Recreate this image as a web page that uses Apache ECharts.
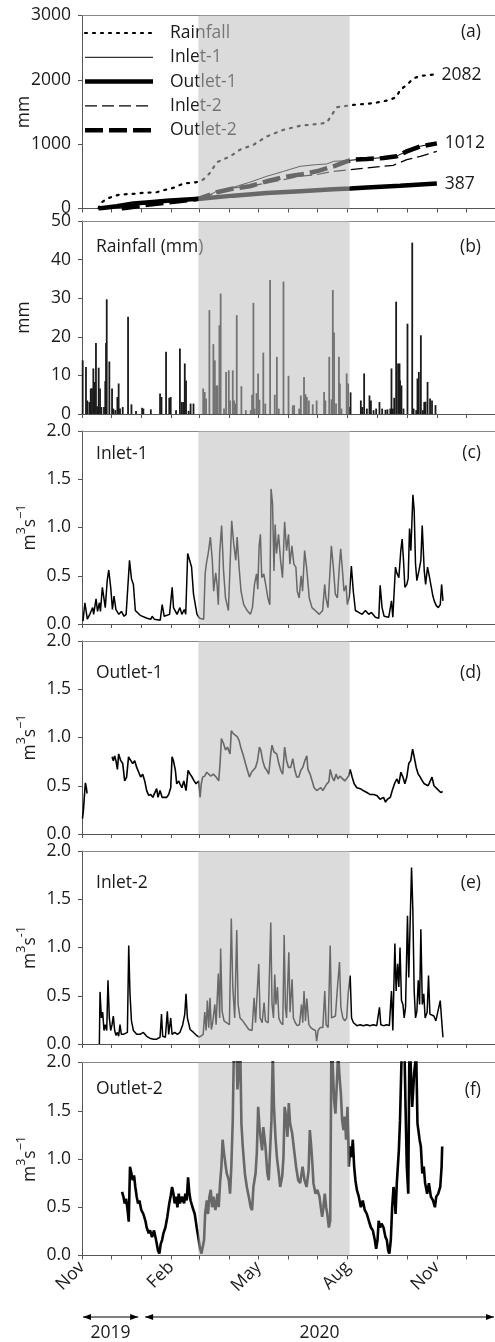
<!DOCTYPE html>
<html><head><meta charset="utf-8">
<script src="https://cdn.jsdelivr.net/npm/echarts@6/dist/echarts.min.js"></script>
<style>html,body{margin:0;padding:0;background:#fff}#c{width:495px;height:1342px}</style>
</head><body><div id="c"></div>
<script>
// x values are days since 2019-11-01
const monthTickDays = [0,30,61,92,121,152,182,213,243,274,305,335,366,396,427];
const monthLabelDays = [0,92,182,274,366];
const monthLabelText = ['Nov','Feb','May','Aug','Nov'];
const shadeDays = [120, 276];
const yearSpans = [['2019',0,61],['2020',61,427]];

// (a) cumulative, mm
const cumRainfall = [[17,0],[18.6,77],[25.5,150],[32.3,190],[39.2,217],[53,227],[63.3,243],[77,253],[84,284],[94,320],[104.5,387],[118,408],[125,449],[132,553],[139,718],[153,811],[163,914],[177,992],[190.6,1121],[208,1224],[225,1286],[245.6,1317],[252.5,1337],[257.7,1456],[262.8,1575],[280,1611],[300.7,1637],[318,1689],[324.7,1740],[328,1844],[335,1921],[342,2024],[349,2060],[362.6,2082]];
const cumInlet1 = [[17,0],[18.6,10],[53,88],[87.4,139],[119.7,160],[128.7,191],[139,268],[156,330],[173,408],[190.6,501],[208,578],[225,656],[242,682],[252.5,692],[259.4,733],[273,744],[293.8,775],[311,790],[324.7,815],[335,890],[349,968],[362.6,1010]];
const cumOutlet1 = [[17,0],[35.8,36],[53,77],[70,98],[87.4,119],[108,140],[121.8,150],[156,200],[190.6,240],[225,270],[259.4,300],[276.6,312],[293.8,328],[328,355],[366,387]];
const cumInlet2 = [[18,0],[70,77],[120,150],[139,243],[156,320],[173,346],[190.6,398],[208,449],[225,501],[242,527],[259.4,578],[276.6,604],[293.8,630],[311,656],[321,671],[335,759],[349,811],[366,888]];
const cumOutlet2 = [[41,0],[70,62],[120,150],[139,253],[156,310],[173,346],[190.6,423],[208,490],[225,527],[242,578],[259.4,656],[273,733],[280,759],[293.8,769],[311,785],[324.7,811],[335,888],[349,966],[366,1012]];
const endTotals = {rain:'2082', outlet2:'1012', outlet1:'387'};

// (b) daily rainfall, mm
const rainfall = [[0.7,13.9],[4.1,12.2],[5.5,3.5],[7.6,3.1],[9,6.6],[10.3,6.7],[11.7,11.8],[13.1,8.3],[14.4,18.4],[15.8,2.0],[17.2,12.0],[18.6,6.6],[20,1.8],[22.7,1.8],[24,8.5],[24.8,18.4],[25.5,29.7],[28.2,13.6],[31,6.6],[32.3,1.4],[34.4,1],[36.5,4.4],[37.8,7.9],[39.2,1.4],[42,1.8],[47.5,25.2],[51,2.5],[55.7,0.8],[62,1.6],[63.3,1.4],[71,1.2],[80.5,5.3],[82,4.4],[86.7,16.1],[90,4.2],[91.5,4.4],[97,1],[101,17.0],[103,3.1],[104.6,3.1],[106,13.1],[107.3,8.7],[110,0.8],[112,2.7],[115,2.7],[125,6.6],[126.6,5.7],[128,4.0],[131.4,26.9],[135.5,18.1],[137,13.9],[138.3,7.4],[139.7,7.4],[141.7,23.0],[143,31.2],[146.5,1.4],[148.6,10.9],[151.4,11.3],[152.7,3.5],[155.5,11.3],[156.9,3.5],[158.2,2.7],[159.6,25.6],[164.4,7.2],[169,1],[174,1],[175.4,5.0],[176.8,28.8],[178,1.4],[180,5.4],[181.6,10.5],[183,3.7],[187,15.9],[189,2.7],[194,34.7],[198.8,5.0],[201,14.8],[203,1.4],[207.8,34.3],[213,9.9],[217.4,2.2],[218.8,2.3],[224,1.4],[225.7,4.8],[229,9.6],[230.5,5.1],[231.9,4.4],[234,3.5],[238,2.5],[242,3.5],[249.7,5.7],[251,3.5],[255,14.8],[257.3,3.8],[258.7,32.1],[260,21.1],[262,2.7],[265,14.8],[266,7.9],[267.6,1.4],[273,10.5],[274.5,7.9],[276,1.8],[277,5.6],[287.6,3.5],[289,1.8],[291,10.5],[293.8,1.4],[296.5,4.8],[298,3.5],[300.7,1],[303.4,1.4],[306.8,3.1],[309.6,1.4],[313,1.1],[315,1.2],[318,1.4],[319.2,11.8],[320.6,1.4],[322,4.2],[324,29.1],[326,13.1],[327.5,13.1],[328,8.7],[329.5,7.4],[331.6,1.4],[335.7,23.4],[340.6,44.4],[342,1.4],[344.7,1],[346,9.2],[347.4,10.9],[349.5,20.4],[351.6,1],[353,3.1],[354.3,3.2],[356.4,8.3],[359,4.0],[361,3.5],[364.6,2.3]];

// (c) Inlet-1 flow, m3/s
const inlet1 = [[1,0.03],[3,0.22],[5.5,0.05],[8,0.10],[11,0.17],[12,0.10],[14.5,0.26],[16,0.13],[18,0.22],[19,0.13],[21,0.38],[23,0.38],[24,0.17],[26,0.45],[27.6,0.56],[29.6,0.38],[31.4,0.15],[33,0.29],[35,0.15],[38,0.10],[40.7,0.13],[43.4,0.08],[45.5,0.10],[47,0.10],[49,0.66],[51,0.47],[53,0.41],[55,0.14],[60,0.09],[67,0.06],[71,0.05],[72.4,0.08],[74.5,0.05],[80.7,0.04],[82.7,0.20],[84.8,0.08],[90.3,0.10],[93,0.38],[94.4,0.17],[98,0.10],[101,0.17],[103,0.10],[105.5,0.15],[107,0.10],[109,0.73],[111,0.71],[113,0.59],[115,0.31],[118.6,0.10],[121.3,0.06],[125.5,0.05],[127,0.52],[128.2,0.62],[130.3,0.74],[132.4,0.90],[134.4,0.66],[135.8,0.34],[137.9,0.53],[139.3,0.41],[140.6,0.20],[142,0.73],[144,1.02],[146,0.55],[148,0.27],[151,0.14],[153,0.14],[154.4,1.07],[156.5,0.83],[158.6,0.66],[160,0.90],[162,0.59],[164,0.34],[166.8,0.20],[170.3,0.14],[173.7,0.10],[175.8,0.17],[177.9,0.41],[180,0.52],[181.3,0.36],[182.7,0.81],[184,0.93],[185.4,0.48],[187.5,0.52],[189.6,0.40],[191.7,0.27],[193.7,0.20],[195,1.40],[196.5,1.25],[198,0.55],[199.2,1.03],[200.6,0.73],[202.7,0.93],[204.8,0.66],[206.8,0.48],[209,1.06],[211,0.76],[213,0.93],[214.4,0.62],[216.5,0.81],[218.5,0.62],[220.6,0.59],[222,0.34],[224,0.27],[226,0.50],[227.5,0.34],[229.6,0.76],[231.6,0.59],[234.4,0.27],[237.2,0.17],[240.6,0.14],[244.7,0.10],[248.2,0.14],[250.3,0.41],[251.6,0.27],[253.7,0.17],[255.8,0.55],[257.2,0.81],[259.2,0.59],[261.3,0.31],[263.4,0.27],[265.4,0.59],[266.8,0.78],[268.9,0.52],[270.2,0.34],[272.3,0.40],[273.7,0.20],[275.8,0.29],[277.8,0.60],[279.9,0.33],[282,0.14],[285.4,0.12],[288.9,0.10],[292.3,0.14],[295.7,0.10],[298.5,0.12],[302.6,0.07],[306.1,0.06],[307.5,0.40],[309.5,0.17],[311.6,0.08],[316.4,0.07],[319.2,0.24],[320.6,0.07],[323.3,0.59],[324.7,0.53],[326.8,0.48],[328.8,0.76],[330.2,0.88],[331.6,0.66],[333,0.38],[335,0.41],[336.4,0.47],[337.8,0.99],[339.2,0.76],[341.3,1.34],[342.6,1.18],[344,0.62],[345.4,0.45],[347.5,0.55],[349.5,0.66],[350.9,1.02],[353,0.55],[354.4,0.41],[356.4,0.59],[358.5,0.48],[359.9,0.48],[361.9,0.29],[363.3,0.24],[365.4,0.19],[367.5,0.17],[369.5,0.20],[370.9,0.41],[372.3,0.24]];

// (d) Outlet-1 flow
const outlet1 = [[0.5,0.16],[1.5,0.25],[2.5,0.40],[3.5,0.53],[4.5,0.48],[5.2,0.42],[6,'-'],[31,0.80],[32.3,0.76],[33.7,0.81],[35,0.76],[36.5,0.67],[37.8,0.83],[40,0.76],[42,0.73],[44,0.55],[46,0.59],[48,0.80],[50,0.78],[52.3,0.73],[54.4,0.76],[56.4,0.69],[58.5,0.64],[60.5,0.59],[62.6,0.62],[64.7,0.55],[66.7,0.45],[68.8,0.40],[70.9,0.41],[73,0.38],[75,0.40],[77,0.47],[78.4,0.38],[80.5,0.45],[82.6,0.38],[84.6,0.40],[87.4,0.38],[89.4,0.41],[91.5,0.48],[92.9,0.80],[94.3,0.76],[96.3,0.66],[97.7,0.52],[99.8,0.55],[101,0.52],[103,0.48],[105,0.55],[107.3,0.45],[109.4,0.66],[111.5,0.62],[113.5,0.59],[115.6,0.55],[117.6,0.52],[119,0.50],[120.4,0.55],[121.8,0.38],[123,0.52],[124.5,0.59],[126.6,0.60],[128.7,0.64],[130.7,0.62],[132.8,0.60],[134.2,0.59],[135.5,0.62],[138.3,0.59],[141,0.55],[142.4,0.73],[143.8,0.99],[145.9,0.94],[148,0.87],[150,0.90],[152.7,0.83],[154,1.07],[156,1.04],[158,1.02],[160,1.01],[162,0.97],[163.7,0.90],[166.5,0.81],[168.6,0.73],[170.6,0.66],[172.7,0.59],[174.8,0.64],[176.8,0.62],[179,0.69],[181,0.76],[183,0.90],[184.4,0.87],[186.4,0.76],[188.5,0.69],[190.6,0.66],[192.6,0.62],[194.7,0.83],[196,0.92],[198,0.85],[200.9,0.83],[203,0.73],[205,0.66],[207,0.62],[209,0.90],[211,0.76],[213,0.69],[215.3,0.69],[217.4,0.78],[219.5,0.66],[221.5,0.59],[223.6,0.59],[225.7,0.66],[227.7,0.69],[229.8,0.76],[231.9,0.81],[233,0.67],[235.3,0.62],[237.4,0.55],[239.4,0.48],[242,0.45],[244,0.47],[246.3,0.48],[248.4,0.45],[250.4,0.47],[252.5,0.52],[254.6,0.54],[256,0.67],[258,0.59],[260,0.55],[262,0.62],[264,0.57],[266,0.60],[268,0.59],[271,0.55],[273,0.57],[275,0.60],[276.6,0.67],[278.6,0.59],[280.7,0.52],[283.5,0.48],[287,0.47],[290,0.45],[293.8,0.43],[297,0.41],[300.7,0.41],[304,0.40],[307.5,0.36],[311,0.38],[313,0.33],[315,0.36],[318,0.38],[320,0.45],[322.7,0.53],[324.8,0.57],[326.8,0.52],[328.9,0.64],[331,0.59],[333,0.52],[335,0.59],[337,0.73],[339,0.76],[341,0.88],[342.6,0.80],[344.7,0.69],[346.8,0.62],[348.8,0.59],[351,0.55],[353,0.52],[355,0.50],[357,0.50],[359,0.50],[361,0.59],[363,0.50],[366,0.47],[368,0.45],[370,0.43],[372,0.44]];

// (e) Inlet-2 flow
const inlet2 = [[17.9,0.0],[18.6,0.54],[20,0.27],[21.3,0.33],[22.7,0.14],[24,0.20],[25.5,0.14],[26.8,0.66],[28.2,0.27],[29.6,0.14],[31,0.20],[32.3,0.29],[33.7,0.14],[35,0.09],[36.5,0.12],[37.8,0.08],[39.2,0.20],[40.6,0.10],[42.7,0.10],[44.7,0.12],[46.8,0.12],[48.2,1.02],[49.5,0.52],[51,0.24],[53,0.14],[56.4,0.10],[60,0.10],[63.3,0.12],[66.7,0.08],[70,0.06],[73.6,0.05],[77,0.05],[80.5,0.07],[82,0.31],[83.2,0.08],[86,0.07],[88,0.34],[89.4,0.10],[91.5,0.27],[92.9,0.10],[95.6,0.12],[98.4,0.10],[101,0.12],[103.9,0.20],[106,0.31],[107.3,0.52],[108.7,0.27],[111.5,0.15],[115,0.12],[118,0.09],[121,0.07],[123,0.08],[125,0.10],[126.6,0.33],[128,0.14],[129.3,0.45],[130.7,0.17],[132,0.48],[133.4,0.15],[134.8,0.22],[137,0.41],[138.3,0.20],[140.6,0.73],[142,0.27],[143,0.99],[144.5,0.34],[146.5,0.24],[149.3,0.22],[152,0.20],[154,1.30],[155.5,0.59],[157.5,0.27],[159.6,1.18],[161,0.41],[163,0.27],[165.8,0.24],[168.6,0.20],[172,0.15],[175.4,0.14],[177.5,0.48],[179,0.22],[180.3,0.20],[182.3,0.83],[183.7,0.27],[185.8,0.22],[187.8,0.43],[189.2,0.24],[192,0.22],[194.7,1.26],[196,0.41],[197.5,0.27],[198.8,0.72],[200,0.41],[201.6,0.59],[203,0.27],[205,0.22],[207.1,0.20],[208.5,1.13],[209.8,0.38],[211,0.27],[213.3,0.95],[214.6,0.33],[216.7,0.67],[218,0.27],[220,0.22],[222,0.19],[224.3,0.20],[226.4,0.41],[227.7,0.22],[229,0.55],[230.5,0.24],[231.9,0.47],[234,0.20],[236,0.17],[238.7,0.15],[240.8,0.14],[242,0.03],[243.5,0.14],[245.6,0.17],[248.4,0.17],[250.4,0.55],[251.8,0.20],[253.9,0.17],[256,1.02],[257.4,0.27],[259.4,0.26],[261.4,0.29],[263.5,0.59],[265.6,0.85],[267,0.38],[269,0.27],[271,0.24],[273,0.27],[274.5,0.52],[276.6,0.71],[278,0.27],[280,0.22],[283.5,0.19],[287,0.20],[290,0.19],[293.8,0.20],[297,0.19],[300.7,0.20],[304,0.19],[306.8,0.38],[308.2,0.20],[311,0.19],[314.4,0.20],[317,0.19],[319.2,0.55],[320.6,0.14],[322.7,1.04],[324,0.55],[325.5,0.83],[326.8,0.59],[328,1.0],[329.5,0.45],[331,0.41],[332.3,0.27],[333.7,0.38],[335.7,1.33],[337,0.69],[339.9,1.83],[341.2,1.40],[342.6,0.55],[344,0.27],[345.4,0.34],[346.8,0.66],[348.2,0.41],[349.5,1.19],[351,0.41],[352.5,0.52],[353.9,0.27],[356,0.33],[357.4,0.71],[358.8,0.31],[360.8,0.33],[362.9,0.29],[365,0.24],[367,0.22],[369.5,0.45],[371,0.24],[372.3,0.07]];

// (f) Outlet-2 flow
const outlet2 = [[41.3,0.66],[42.7,0.61],[44,0.54],[45.4,0.59],[46.8,0.49],[48.2,0.35],[49.5,0.92],[51,0.85],[52.3,0.78],[53.7,0.83],[55,0.71],[56.4,0.61],[57.8,0.54],[59.2,0.57],[61.2,0.47],[63.3,0.43],[65.4,0.36],[66.7,0.29],[68.8,0.23],[70.2,0.26],[72.2,0.19],[74.3,0.26],[76.4,0.16],[78.4,0.05],[79.8,0.02],[81.2,0.12],[82.6,0.16],[84,0.23],[86,0.29],[88,0.40],[90,0.54],[91.5,0.62],[92.9,0.71],[94.3,0.64],[95.6,0.54],[97,0.61],[98.4,0.50],[99.8,0.64],[101,0.54],[103.2,0.61],[105.3,0.54],[106.6,0.64],[108,0.57],[109.4,0.81],[110.8,0.64],[112,0.57],[114,0.50],[116.3,0.43],[118.3,0.29],[120.4,0.16],[121.8,0.07],[123.2,0.02],[124.5,0.02],[125.9,0.16],[127,0.43],[128.7,0.57],[130,0.43],[131.4,0.61],[132.8,0.68],[134.2,0.50],[135.5,0.61],[137.6,0.47],[139.7,0.64],[141,0.50],[142.4,0.75],[143.8,0.92],[145,1.20],[146.5,1.06],[147.9,0.95],[149.3,0.85],[151.4,0.78],[152.7,0.64],[154,0.92],[155.5,1.40],[156.9,2.3],[159,2.3],[160.3,1.72],[161.7,1.90],[163,2.3],[164.4,1.37],[165.8,1.13],[168,0.85],[170,0.71],[172,0.61],[174,0.50],[175.4,0.47],[176.8,0.71],[179,0.85],[180.3,1.06],[181.7,1.54],[183,1.34],[184.4,1.20],[185.8,1.09],[187,1.33],[189.2,1.13],[191.2,0.85],[192.6,0.78],[194,1.09],[195.4,1.40],[196.8,2.1],[198,1.54],[199.5,1.23],[201,1.02],[203,0.85],[204.4,0.71],[206.5,0.82],[207.8,1.02],[209,1.54],[210.5,1.44],[211.9,1.23],[213.3,1.58],[214.6,1.37],[216.7,1.27],[218.8,1.09],[220.8,0.92],[223,0.78],[225,0.75],[227.5,0.92],[229.5,0.78],[231.6,0.71],[233.7,0.88],[235,1.30],[236.4,1.13],[237.8,0.92],[238.7,0.75],[240.8,0.64],[242.8,0.68],[244.9,0.61],[246.3,0.50],[247.7,0.40],[249,0.50],[250.4,0.64],[251.8,0.50],[253,0.43],[254.6,0.29],[256,0.36],[257.3,2.3],[258.7,2.3],[260,1.61],[261.4,1.47],[262.8,1.78],[264.2,2.1],[265.6,1.85],[267,1.68],[268.3,1.40],[269.7,1.30],[271,1.44],[272.4,1.20],[273.8,1.54],[275.2,0.92],[276.6,1.13],[278,1.02],[279.3,1.20],[280.7,0.92],[282,0.78],[283.5,0.68],[285.5,0.61],[287.6,0.50],[289.6,0.57],[291.7,0.47],[293.8,0.43],[295.8,0.36],[298,0.29],[300,0.26],[302,0.16],[303.4,0.07],[304.8,0.16],[306,0.36],[307.5,0.29],[309,0.33],[311,0.29],[313,0.19],[314.4,0.16],[315.8,0.05],[317,0.02],[318.5,0.16],[319.9,0.50],[321.3,0.71],[322.7,0.57],[323.4,0.43],[324.7,0.75],[326.8,1.09],[328,1.40],[330.2,2.3],[332.3,2.3],[333.7,1.54],[335,0.92],[336.5,0.64],[337.8,2.3],[339.2,2.3],[340.6,1.54],[342.6,1.89],[344.7,2.1],[346,1.37],[348.2,1.20],[349.5,1.13],[351,0.85],[352.5,0.92],[353.9,0.75],[356,0.64],[357.8,0.75],[359.8,0.61],[362,0.57],[364,0.50],[365.4,0.61],[367.4,0.64],[369.5,0.71],[370.9,0.92],[371.5,1.13]];

const panelTitles = ['', 'Rainfall (mm)', 'Inlet-1', 'Outlet-1', 'Inlet-2', 'Outlet-2'];
const panelLetters = ['(a)','(b)','(c)','(d)','(e)','(f)'];
const legendNames = ['Rainfall','Inlet-1','Outlet-1','Inlet-2','Outlet-2'];

// ---------- layout / style ----------
const FONT = '"Open Sans", "Liberation Sans", sans-serif';
const FS = 17.5;
const TXT = '#1a1a1a';
const AX = '#555';
const tops = [15.5, 221, 431, 641, 851, 1062.5];
const H = 193;
const LEFT = 82, WIDTH = 414;
const shade = 'rgba(190,190,190,0.55)';
const styles = {
  rain:   {width:2.2, type:[2,6], cap:'round'},
  inlet1: {width:1, type:'solid'},
  outlet1:{width:4.5, type:'solid'},
  inlet2: {width:1.2, type:[12,5]},
  outlet2:{width:4.5, type:[18,6]}
};

const grids = tops.map(t => ({left: LEFT, top: t, width: WIDTH, height: H, containLabel:false, outerBoundsMode:'none'}));
const xAxes = [], yAxes = [];
const flowName = m => '{m|m}{sup|3}{m|s}{sup|' + m + '1}';
const yCfg = [
  {max:3000, interval:1000, name:'mm', fmt:v=>String(v)},
  {max:50, interval:10, name:'mm', fmt:v=>String(v)},
  {max:2, interval:0.5, name:flowName('\u2212'), fmt:v=>v.toFixed(1)},
  {max:2, interval:0.5, name:flowName('\u2212'), fmt:v=>v.toFixed(1)},
  {max:2, interval:0.5, name:flowName('-'), fmt:v=>v.toFixed(1)},
  {max:2, interval:0.5, name:flowName('\u2212'), fmt:v=>v.toFixed(1)}
];
tops.forEach((t, i) => {
  xAxes.push({
    gridIndex:i, type:'value', min:0, max:427, position:'bottom',
    axisLine:{show:true, onZero:false, lineStyle:{color:AX, width:1}},
    axisTick:{show:true, length:4, customValues: monthTickDays, lineStyle:{color:AX}},
    axisLabel:{show: i === 5, customValues: monthLabelDays, rotate:45, margin:9,
      fontSize:FS, fontFamily:FONT, color:TXT,
      formatter: v => monthLabelText[monthLabelDays.indexOf(v)] || ''},
    splitLine:{show:false}
  });
  xAxes.push({
    gridIndex:i, type:'value', min:0, max:427, position:'top',
    axisLine:{show:true, onZero:false, lineStyle:{color:'#888', width:1}},
    axisTick:{show:false}, axisLabel:{show:false}, splitLine:{show:false}
  });
  const c = yCfg[i];
  yAxes.push({
    gridIndex:i, type:'value', min:0, max:c.max, interval:c.interval,
    axisLine:{show:true, lineStyle:{color:AX, width:1}},
    axisTick:{show:true, length:4, lineStyle:{color:AX}},
    axisLabel:{fontSize:FS, fontFamily:FONT, color:TXT, margin:11, formatter:c.fmt},
    splitLine:{show:false},
    name:c.name, nameLocation:'middle', nameRotate:90, nameGap: i < 2 ? 49 : 43,
    nameMoveOverlap:false,
    nameTextStyle:{fontSize:FS, fontFamily:FONT, color:TXT,
      rich:{m:{fontSize:FS, fontFamily:FONT, color:TXT, lineHeight:24, verticalAlign:'bottom'},
            sup:{fontSize:12.5, fontFamily:FONT, color:TXT, lineHeight:14, verticalAlign:'top'}}}
  });
});

const lineS = (data, st, endText) => ({
  type:'line', xAxisIndex:0, yAxisIndex:0, data, symbol:'none', z:2,
  lineStyle:{color:'#000', width:st.width, type:st.type, cap:st.cap || 'butt'},
  endLabel: endText ? {show:true, formatter:endText, color:TXT, fontSize:FS, fontFamily:FONT, distance:8} : undefined
});
const series = [
  lineS(cumRainfall, styles.rain, endTotals.rain),
  lineS(cumInlet1, styles.inlet1),
  lineS(cumOutlet1, styles.outlet1, endTotals.outlet1),
  lineS(cumInlet2, styles.inlet2),
  lineS(cumOutlet2, styles.outlet2, endTotals.outlet2),
  {type:'bar', xAxisIndex:2, yAxisIndex:1, data:rainfall, barWidth:1.8, itemStyle:{color:'#1a1a1a'}, z:2},
  {type:'line', xAxisIndex:4, yAxisIndex:2, data:inlet1, symbol:'none', lineStyle:{color:'#000', width:1.5}, z:2},
  {type:'line', xAxisIndex:6, yAxisIndex:3, data:outlet1, symbol:'none', lineStyle:{color:'#000', width:1.6}, z:2},
  {type:'line', xAxisIndex:8, yAxisIndex:4, data:inlet2, symbol:'none', lineStyle:{color:'#000', width:1.5}, z:2},
  {type:'line', xAxisIndex:10, yAxisIndex:5, data:outlet2, symbol:'none', lineStyle:{color:'#000', width:2.6}, z:2}
];
tops.forEach((t, i) => {
  series.push({type:'line', xAxisIndex:2*i, yAxisIndex:i, data:[], silent:true, z:10,
    markArea:{silent:true, z:10, itemStyle:{color:shade, borderWidth:0},
      data:[[{xAxis:shadeDays[0]},{xAxis:shadeDays[1]}]]}});
});

// ---------- annotations ----------
const txt = (x, y, s, align) => ({type:'text', x, y, z:0, silent:true,
  style:{text:s, font:FS + 'px ' + FONT, fill:TXT, align:align || 'left', verticalAlign:'middle',
         textAlign:align || 'left', textVerticalAlign:'middle'}});
const graphic = [];
const titleY = [0, 247, 454, 673, 883, 1089];
const letterY = [32, 247, 453, 673, 883, 1090];
panelTitles.forEach((s, i) => { if (s) graphic.push(txt(96, titleY[i], s)); });
panelLetters.forEach((s, i) => graphic.push(txt(481, letterY[i], s, 'right')));
const legStyles = [styles.rain, styles.inlet1, styles.outlet1, styles.inlet2, styles.outlet2];
legendNames.forEach((s, k) => {
  const y = 33 + k * 24.3;
  const st = legStyles[k];
  graphic.push({type:'line', z:0, silent:true, shape:{x1:85, y1:y, x2:153, y2:y},
    style:{stroke:'#000', lineWidth:st.width, lineDash: st.type === 'solid' ? null : st.type, lineCap: st.cap || 'butt'}});
  graphic.push(txt(170, y, s));
});
// year arrows
const dayToX = d => LEFT + d * WIDTH / 427;
const arrowY = 1317;
yearSpans.forEach(([label, d0, d1], k) => {
  const x0 = dayToX(d0) + (k ? 4 : 1), x1 = dayToX(d1) - (k ? 2 : 3);
  graphic.push({type:'line', silent:true, shape:{x1:x0, y1:arrowY, x2:x1, y2:arrowY}, style:{stroke:'#000', lineWidth:1}});
  graphic.push({type:'polygon', silent:true, shape:{points:[[x0, arrowY],[x0+8, arrowY-3],[x0+8, arrowY+3]]}, style:{fill:'#000'}});
  graphic.push({type:'polygon', silent:true, shape:{points:[[x1, arrowY],[x1-8, arrowY-3],[x1-8, arrowY+3]]}, style:{fill:'#000'}});
  graphic.push(txt((x0 + x1) / 2, 1333, label, 'center'));
});

const chart = echarts.init(document.getElementById('c'), null, {renderer:'canvas'});
chart.setOption({
  animation:false,
  backgroundColor:'#fff',
  grid: grids, xAxis: xAxes, yAxis: yAxes, series, graphic
});
</script></body></html>
